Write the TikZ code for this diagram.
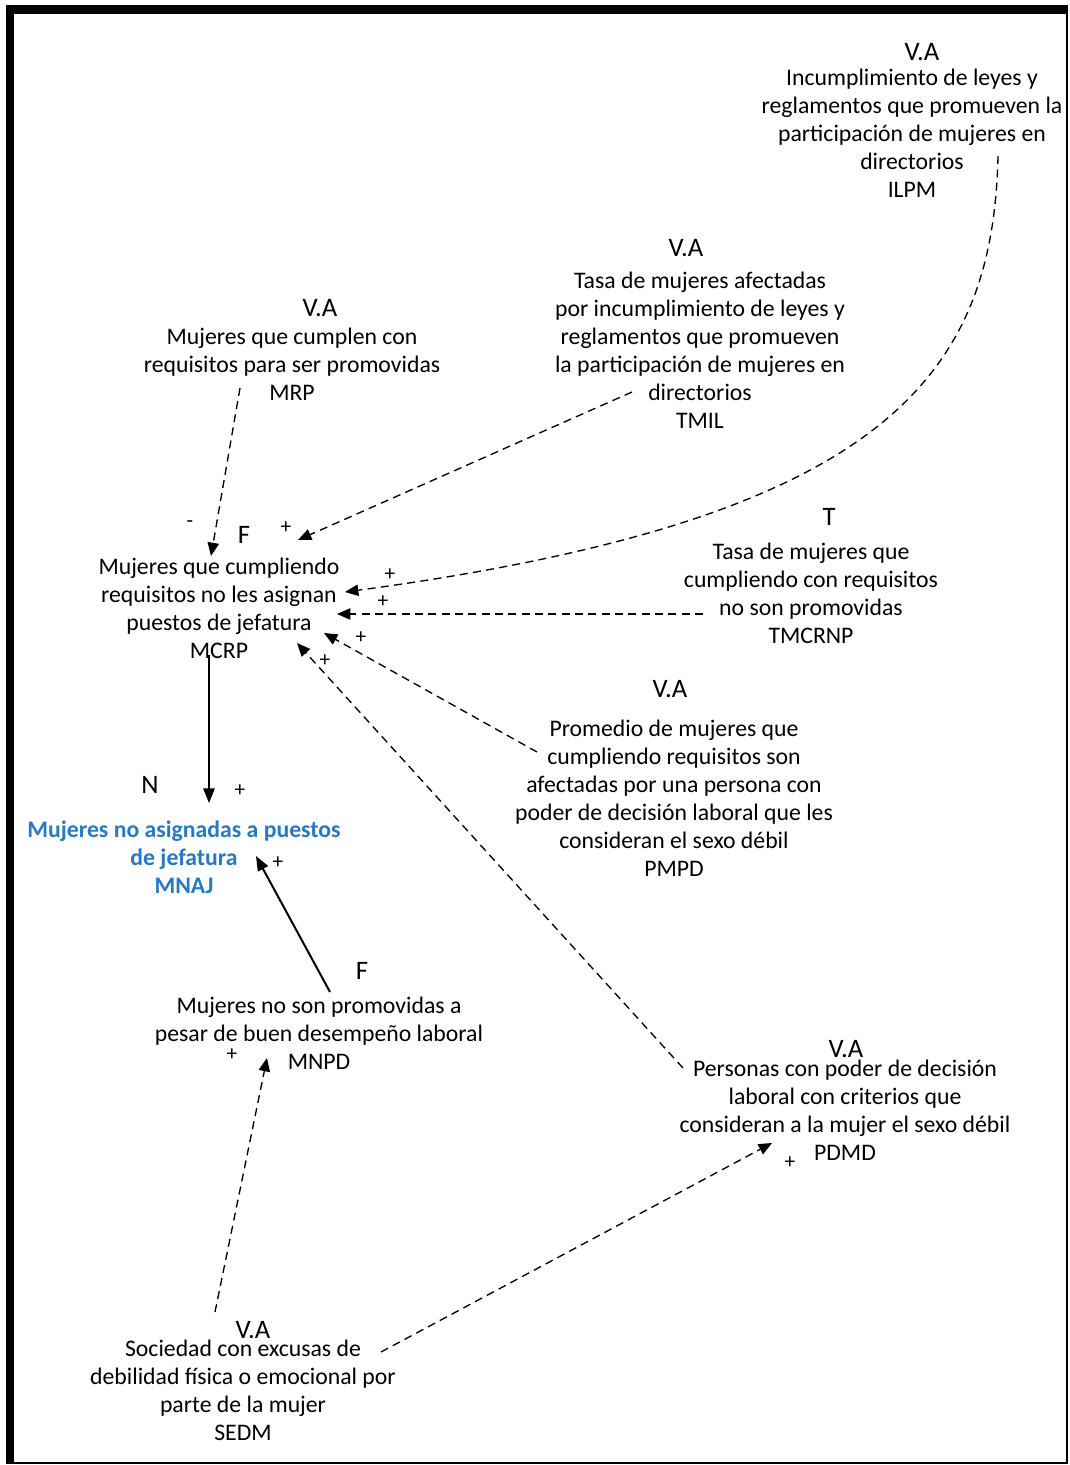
\documentclass[tikz,border=0pt]{standalone}
\usepackage{fontspec}
\setmainfont{Carlito}
\usetikzlibrary{arrows.meta}
\definecolor{mnajblue}{RGB}{38,122,196}
\begin{document}
\begin{tikzpicture}[x=0.75pt,y=-0.75pt,
  lbl/.style={font=\fontsize{17.8}{21}\selectfont, align=center, inner sep=0pt},
  keylbl/.style={lbl, font=\fontsize{17.8}{21}\selectfont\bfseries, text=mnajblue},
  tag/.style={font=\fontsize{20}{21}\selectfont, inner sep=0pt},
  sgn/.style={font=\fontsize{16}{16}\selectfont, inner sep=0pt},
  dep/.style={dash pattern=on 6pt off 4pt, line width=1pt, -{Triangle[length=10pt,width=8.5pt]}},
  flow/.style={line width=1.5pt, -{Triangle[length=11pt,width=8.5pt]}}]
\useasboundingbox (0,0) rectangle (1070,1465);
% frame
\fill (6,5) rectangle (1068,14);
\fill (6,5) rectangle (14,1464);
\fill (1066,5) rectangle (1068,1464);
\fill (6,1462) rectangle (1068,1464);

% blocks
\node[tag] (ILPMt) at (922,52) {V.A};
\node[lbl] (ILPM) at (912,133) {Incumplimiento de leyes y\\reglamentos que promueven la\\participación de mujeres en\\directorios\\ILPM};

\node[tag] (TMILt) at (686,248) {V.A};
\node[lbl] (TMIL) at (700,350) {Tasa de mujeres afectadas\\por incumplimiento de leyes y\\reglamentos que promueven\\la participación de mujeres en\\directorios\\TMIL};

\node[tag] (MRPt) at (320,308) {V.A};
\node[lbl] (MRP) at (292,364) {Mujeres que cumplen con\\requisitos para ser promovidas\\MRP};

\node[tag] (MCRPt) at (244,535) {F};
\node[lbl] (MCRP) at (219,608) {Mujeres que cumpliendo\\requisitos no les asignan\\puestos de jefatura\\MCRP};

\node[tag] (TMCRNPt) at (829,517) {T};
\node[lbl] (TMCRNP) at (811,593) {Tasa de mujeres que\\cumpliendo con requisitos\\no son promovidas\\TMCRNP};

\node[tag] (PMPDt) at (670,689) {V.A};
\node[lbl] (PMPD) at (674,798) {Promedio de mujeres que\\cumpliendo requisitos son\\afectadas por una persona con\\poder de decisión laboral que les\\consideran el sexo débil\\PMPD};

\node[tag] (MNAJt) at (150,785) {N};
\node[keylbl] (MNAJ) at (184,857) {Mujeres no asignadas a puestos\\de jefatura\\MNAJ};

\node[tag] (MNPDt) at (362,971) {F};
\node[lbl] (MNPD) at (319,1033) {Mujeres no son promovidas a\\pesar de buen desempeño laboral\\MNPD};

\node[tag] (PDMDt) at (846,1049) {V.A};
\node[lbl] (PDMD) at (845,1110) {Personas con poder de decisión\\laboral con criterios que\\consideran a la mujer el sexo débil\\PDMD};

\node[tag] (SEDMt) at (253,1330) {V.A};
\node[lbl] (SEDM) at (243,1390) {Sociedad con excusas de\\debilidad física o emocional por\\parte de la mujer\\SEDM};

% connector end points
\coordinate (mrpOut) at (240,388);
\coordinate (mcrpInA) at (211,556);
\coordinate (tmilOut) at (632,392);
\coordinate (mcrpInB) at (298,540);
\coordinate (ilpmOut) at (998,156);
\coordinate (mcrpInC) at (345,592);
\coordinate (tmcrnpOut) at (703,614);
\coordinate (mcrpInD) at (337,614);
\coordinate (pmpdOut) at (537,752);
\coordinate (mcrpInE) at (324,633);
\coordinate (pdmdOut) at (683,1068);
\coordinate (mcrpInF) at (297,643);
\coordinate (mcrpOut) at (209,655);
\coordinate (mnajInA) at (209,803);
\coordinate (mnpdOut) at (330,992);
\coordinate (mnajInB) at (256,856);
\coordinate (sedmOutA) at (215,1312);
\coordinate (mnpdIn) at (267,1058);
\coordinate (sedmOutB) at (381,1352);
\coordinate (pdmdIn) at (772,1143);

% connectors
\draw[dep] (mrpOut) -- (mcrpInA);
\draw[dep] (tmilOut) -- (mcrpInB);
\draw[dep] (ilpmOut) .. controls (993,380) and (880,520) .. (mcrpInC);
\draw[dep] (tmcrnpOut) -- (mcrpInD);
\draw[dep] (pmpdOut) -- (mcrpInE);
\draw[dep] (pdmdOut) -- (mcrpInF);
\draw[flow] (mcrpOut) -- (mnajInA);
\draw[flow] (mnpdOut) -- (mnajInB);
\draw[dep] (sedmOutA) -- (mnpdIn);
\draw[dep] (sedmOutB) -- (pdmdIn);

% polarity signs
\node[sgn] (s1) at (190,524) {-};
\node[sgn] (s2) at (286,528) {+};
\node[sgn] (s3) at (390,575) {+};
\node[sgn] (s4) at (383,602) {+};
\node[sgn] (s5) at (361,638) {+};
\node[sgn] (s6) at (325,661) {+};
\node[sgn] (s7) at (240,791) {+};
\node[sgn] (s8) at (278,863) {+};
\node[sgn] (s9) at (232,1055) {+};
\node[sgn] (s10) at (790,1163) {+};
\end{tikzpicture}
\end{document}
